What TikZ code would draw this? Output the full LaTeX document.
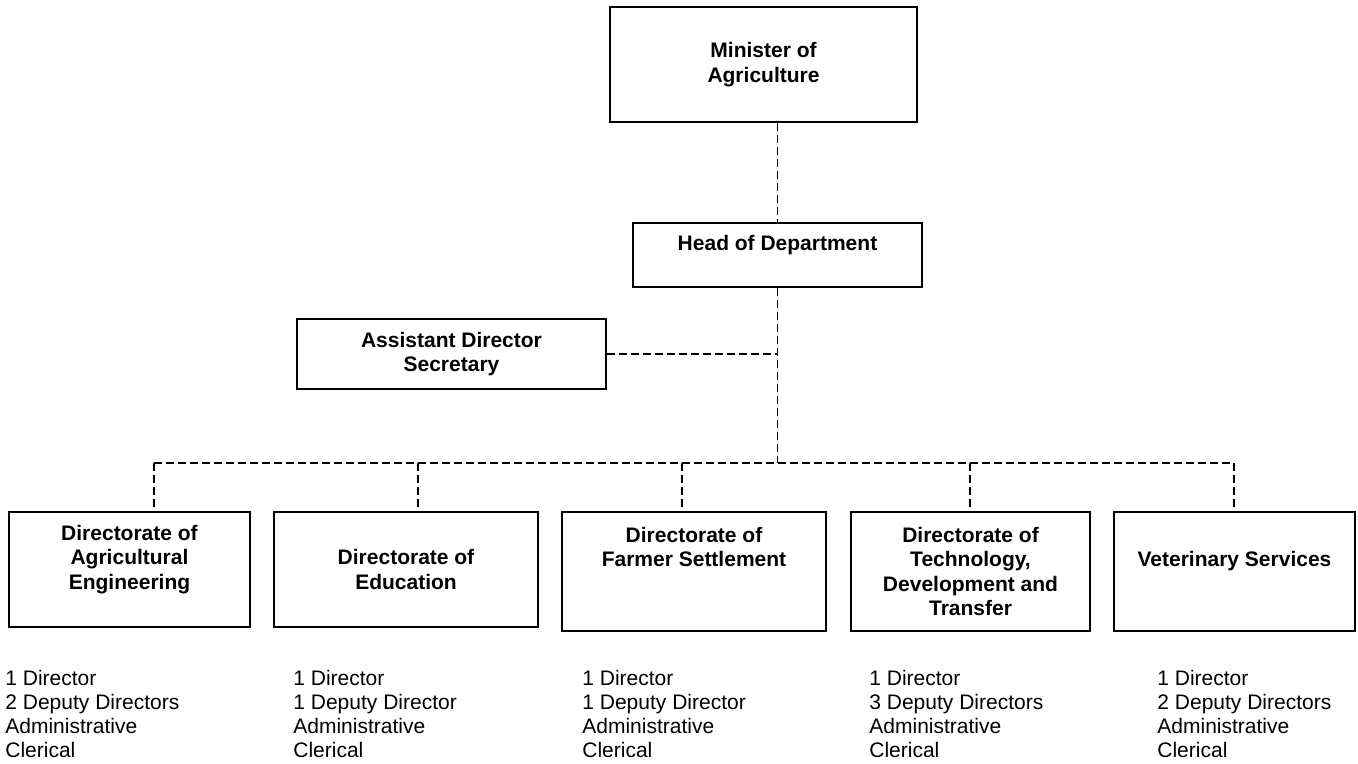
\documentclass[tikz,border=0pt]{standalone}
\usepackage{fontspec}
\setmainfont{Liberation Sans}
\usepackage{tikz}
\usetikzlibrary{positioning,calc}

\tikzset{
  orgbox/.style 2 args={draw,line width=1pt,inner sep=0pt,align=center,
    font=\fontsize{10.5}{12.3}\selectfont\bfseries,
    minimum width=#1*0.5pt,minimum height=#2*0.5pt},
  staff/.style={inner sep=0pt,align=left,anchor=north west,
    font=\fontsize{10.5}{12}\selectfont},
  link/.style={line width=.75pt,dash pattern=on 4pt off 2pt}
}

\begin{document}
\begin{tikzpicture}[x=0.5pt,y=-0.5pt]
        \useasboundingbox (0,0) rectangle (1358,764);

        \node[orgbox={307}{115}] (minister) at (763.5,64.5) {Minister of\\Agriculture};
        \node[orgbox={289}{64}] (head) at (777.5,255) {Head of Department\\ ~};
        \node[orgbox={309}{70}] (asst) at (451.5,354) {Assistant Director\\Secretary};

        \node[orgbox={241}{115}] (d1) at (129.5,569.5) {Directorate of\\Agricultural\\Engineering\\ ~};
        \node[orgbox={264}{115}] (d2) at (406,569.5) {Directorate of\\Education};
        \node[orgbox={264}{119}] (d3) at (694,571.5) {Directorate of\\Farmer Settlement\\ ~\\ ~};
        \node[orgbox={239}{119}] (d4) at (970.5,571.5) {Directorate of\\Technology,\\Development and\\Transfer};
        \node[orgbox={241}{119}] (d5) at (1234.5,571.5) {Veterinary Services\\ ~};

        % bus above the directorates
        \coordinate (j1) at (154,463);
        \coordinate (j2) at (418,463);
        \coordinate (j3) at (682,463);
        \coordinate (j4) at (970,463);
        \coordinate (j5) at (1234,463);

        \draw[link] (minister.south -| head.north) -- (head.north);
        \draw[link] (head.south) -- (head.south |- j1);
        \draw[link] (asst.east) -- (asst.east -| head.south);
        \draw[link] (j1) -- (j5);
        \draw[link] (j1) -- (j1 |- d1.north);
        \draw[link] (j2) -- (j2 |- d2.north);
        \draw[link] (j3) -- (j3 |- d3.north);
        \draw[link] (j4) -- (j4 |- d4.north);
        \draw[link] (j5) -- (j5 |- d5.north);

        \node[staff] (s1) at (5,670) {1 Director\\2 Deputy Directors\\Administrative\\Clerical};
        \node[staff] (s2) at (293,670) {1 Director\\1 Deputy Director\\Administrative\\Clerical};
        \node[staff] (s3) at (582,670) {1 Director\\1 Deputy Director\\Administrative\\Clerical};
        \node[staff] (s4) at (869,670) {1 Director\\3 Deputy Directors\\Administrative\\Clerical};
        \node[staff] (s5) at (1157,670) {1 Director\\2 Deputy Directors\\Administrative\\Clerical};

      \end{tikzpicture}
\end{document}
